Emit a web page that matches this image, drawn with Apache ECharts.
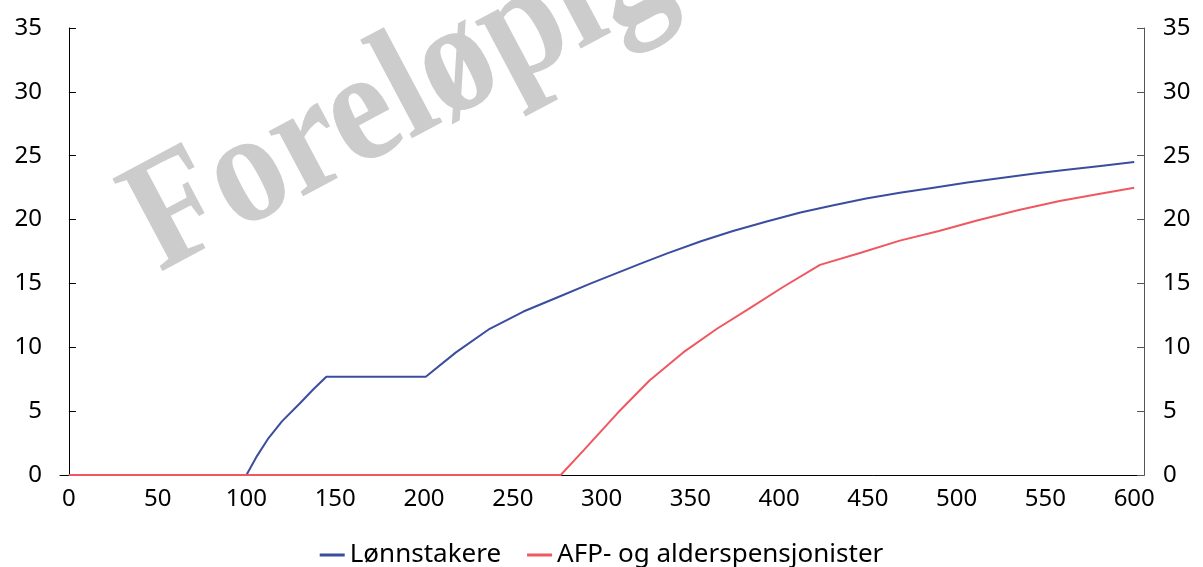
<!DOCTYPE html>
<html>
	<head>
		<meta charset="UTF-8">
		<title>Lønnstakere / AFP- og alderspensjonister</title>
		<!-- ECharts -->
		<script src="https://cdn.jsdelivr.net/npm/echarts@6/dist/echarts.min.js"></script>
		<style>
			html, body { margin: 0; padding: 0; background: #fff; }
		</style>
	</head>
	<body>
		<!-- chart container -->
		<div id="main" style="width: 1203px;height:567px;"></div>
	</body>
<script>
	// x tick labels and y ticks
	var xTicks = [0, 50, 100, 150, 200, 250, 300, 350, 400, 450, 500, 550, 600];
	var yMin = 0, yMax = 35, yStep = 5;

	// Lønnstakere
	var lonnX = [0, 100, 106, 112, 120, 130, 138, 145, 201, 218, 237, 256, 275, 294, 322, 337, 356, 374, 393, 412, 430, 449, 468, 487, 506, 525, 544, 562, 581, 600];
	var lonnY = [0, 0, 1.5, 2.8, 4.2, 5.6, 6.75, 7.7, 7.7, 9.6, 11.45, 12.8, 13.9, 15.0, 16.55, 17.35, 18.3, 19.1, 19.85, 20.55, 21.1, 21.65, 22.1, 22.5, 22.9, 23.25, 23.6, 23.9, 24.2, 24.5];

	// AFP- og alderspensjonister
	var afpX = [0, 277, 290, 309, 327, 346, 365, 384, 402, 423, 446, 468, 490, 512, 535, 558, 580, 600];
	var afpY = [0, 0, 1.95, 4.85, 7.4, 9.6, 11.45, 13.1, 14.7, 16.45, 17.4, 18.35, 19.1, 19.95, 20.75, 21.45, 22.0, 22.5];

	function pairs(xs, ys) {
		var out = [];
		for (var i = 0; i < xs.length; i++) {
			out.push([xs[i], ys[i]]);
		}
		return out;
	}

	var textFont = 'Noto Sans';
	var labelStyle = { color: '#000', fontSize: 24, fontFamily: textFont };

	var option = {
		animation: false,
		backgroundColor: '#fff',
		grid: {
			left: 60,
			right: 59,
			top: 28,
			bottom: 92,
			containLabel: false
		},
		legend: {
			top: 537,
			left: 'center',
			icon: 'rect',
			itemWidth: 25,
			itemHeight: 3,
			itemGap: 26,
			textStyle: { color: '#000', fontSize: 26, fontFamily: textFont },
			data: ['Lønnstakere', 'AFP- og alderspensjonister']
		},
		xAxis: {
			type: 'value',
			min: -5,
			max: 605.5,
			splitLine: { show: false },
			axisLine: { show: true, onZero: false, lineStyle: { color: '#000', width: 1 } },
			axisTick: { show: false },
			axisLabel: Object.assign({ margin: 12, customValues: xTicks }, labelStyle)
		},
		yAxis: [
			{
				type: 'value',
				position: 'left',
				min: yMin,
				max: yMax,
				interval: yStep,
				splitLine: { show: false },
				axisLine: { show: true, lineStyle: { color: '#000', width: 1 } },
				axisTick: { show: true, inside: true, length: 7, lineStyle: { color: '#000' } },
				axisLabel: Object.assign({ margin: 18 }, labelStyle)
			},
			{
				type: 'value',
				position: 'right',
				min: yMin,
				max: yMax,
				interval: yStep,
				splitLine: { show: false },
				axisLine: { show: true, lineStyle: { color: '#555', width: 1 } },
				axisTick: { show: true, inside: true, length: 7, lineStyle: { color: '#555' } },
				axisLabel: Object.assign({ margin: 19 }, labelStyle)
			}
		],
		// watermark
		graphic: [
			{
				type: 'text',
				x: 140,
				y: 236,
				rotation: 28 * Math.PI / 180,
				scaleY: 1.12,
				z: 0,
				silent: true,
				style: {
					text: 'Foreløpig',
					fill: '#cccccc',
					font: 'bold 143px "Liberation Serif"',
					align: 'left',
					verticalAlign: 'middle'
				}
			}
		],
		series: [
			{
				name: 'Lønnstakere',
				type: 'line',
				yAxisIndex: 0,
				showSymbol: false,
				symbol: 'none',
				lineStyle: { color: '#3b4d9e', width: 2 },
				itemStyle: { color: '#3b4d9e' },
				data: pairs(lonnX, lonnY)
			},
			{
				name: 'AFP- og alderspensjonister',
				type: 'line',
				yAxisIndex: 0,
				showSymbol: false,
				symbol: 'none',
				lineStyle: { color: '#ef5860', width: 2 },
				itemStyle: { color: '#ef5860' },
				data: pairs(afpX, afpY)
			}
		]
	};

	var myChart = echarts.init(document.getElementById('main'));
	myChart.setOption(option);
</script>
</html>
